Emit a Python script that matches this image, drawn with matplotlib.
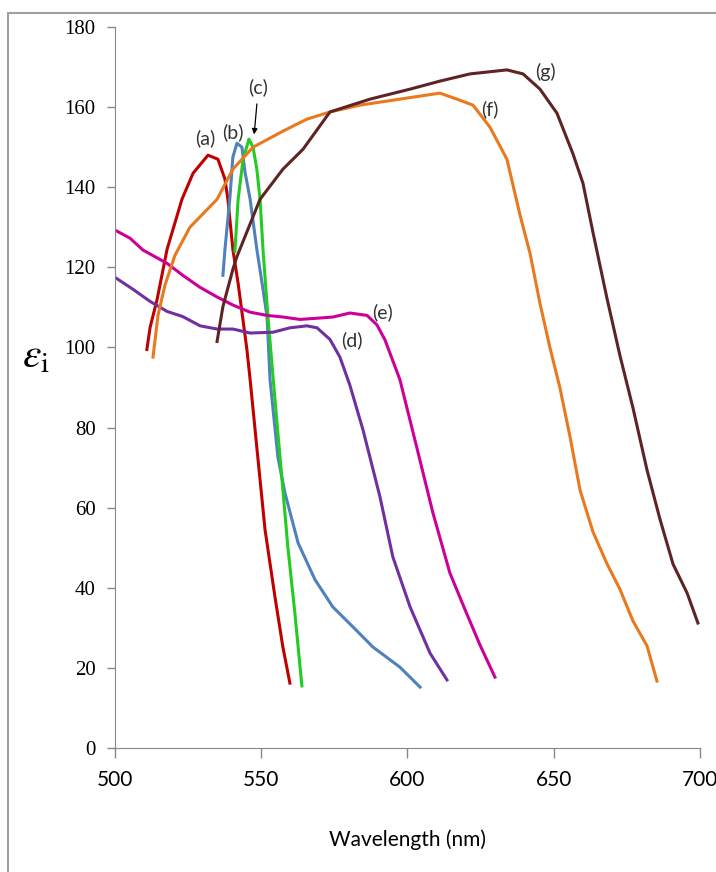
import matplotlib
matplotlib.use("Agg")
import matplotlib.pyplot as plt
from matplotlib.patches import Rectangle

plt.rcParams['mathtext.fontset'] = 'stix'

# (a) red
wl_a = [510.9, 512.0, 514.4, 517.8, 522.9, 526.7, 531.8, 535.2, 537.6, 538.6, 540.3, 542.1,
        545.1, 546.2, 548.5, 551.3, 554.7, 557.4, 559.8]
eps_a = [99.5, 105, 112, 124.5, 137, 143.5, 148, 147, 142, 137, 124.5, 116,
         99.5, 92, 75, 54.5, 37.7, 25.2, 16.2]

# (b) blue
wl_b = [536.9, 537.6, 539.3, 540.3, 541.7, 543.4, 544.4, 546.2, 548.5, 550.3, 552.0, 553.0,
        555.7, 558.1, 562.6, 568.4, 574.5, 581.4, 588.2, 597.4, 604.3]
eps_b = [118, 124.5, 137.5, 147.5, 151, 150, 144, 137, 124.5, 116, 107.6, 92,
         72.6, 63.7, 51.2, 42, 35.2, 30.2, 25.2, 20.2, 15.2]

# (c) green
wl_c = [541.0, 542.1, 543.8, 545.8, 547.2, 548.5, 549.6, 550.6, 552.3, 554.4, 557.1, 559.1,
        561.5, 563.9]
eps_c = [124, 137, 147, 152, 150, 144.5, 137, 124.5, 107.6, 89.5, 67, 50.2, 33.7, 15.5]

# (d) purple
wl_d = [500, 506.2, 512.0, 517.8, 523.2, 529.1, 534.9, 540.3, 546.2, 554.0, 559.8, 565.6,
        569.1, 573.5, 576.9, 580.3, 584.8, 590.6, 595.0, 600.9, 607.7, 613.5]
eps_d = [117.5, 114.5, 111.5, 109, 107.7, 105.4, 104.6, 104.6, 103.6, 103.8, 104.9, 105.4,
         104.9, 102, 97.6, 90.6, 79.4, 62.7, 47.7, 35.2, 23.7, 17]

# (e) magenta
wl_e = [500, 505.1, 509.6, 517.8, 523.2, 529.1, 534.9, 540.3, 546.2, 552.0, 557.4, 563.2,
        569.1, 574.5, 580.3, 586.2, 589.6, 592.3, 597.4, 603.2, 608.7, 614.5, 619.7, 624.8, 629.9]
eps_e = [129.3, 127.3, 124.3, 121, 118, 115, 112.6, 110.6, 108.8, 108, 107.6, 107,
         107.3, 107.6, 108.6, 108, 105.6, 101.9, 92, 75, 58.7, 43.7, 34.5, 25.7, 17.7]

# (f) orange
wl_f = [513.0, 514.7, 517.1, 520.5, 525.6, 534.9, 540.3, 547.2, 557.4, 565.6, 573.5, 583.8,
        597.4, 611.1, 616.9, 622.4, 628.2, 634.0, 638.5, 641.9, 645.3, 648.7, 652.1, 655.6,
        659.0, 663.4, 668.2, 672.6, 677.1, 681.9, 685.3]
eps_f = [97.6, 108, 115.6, 123, 130, 137, 144.5, 150, 154, 157, 158.8, 160.5,
         162, 163.5, 162, 160.5, 155, 147, 133, 123.5, 111, 100, 90, 77.6,
         64.4, 54, 46, 39.7, 31.7, 25.5, 16.7]

# (g) brown
wl_g = [534.9, 536.9, 540.3, 541.7, 549.6, 557.4, 564.3, 573.5, 587.2, 600.9, 611.1, 621.4,
        634.0, 639.5, 645.3, 651.1, 656.6, 660.0, 663.4, 668.2, 672.6, 677.1, 681.9, 686.3,
        690.8, 695.6, 699.3]
eps_g = [101.5, 110.2, 119.5, 122.7, 137, 144.5, 149.5, 158.8, 162, 164.5, 166.5, 168.3,
         169.3, 168.3, 164.5, 158.5, 148.3, 141, 128.8, 112.3, 98.1, 84.9, 69.4, 57.2,
         45.9, 38.7, 31.2]

curves = [
    (wl_a, eps_a, '#C00000'),
    (wl_b, eps_b, '#4F81BD'),
    (wl_c, eps_c, '#22CC22'),
    (wl_d, eps_d, '#7030A0'),
    (wl_e, eps_e, '#CC0099'),
    (wl_f, eps_f, '#E8791E'),
    (wl_g, eps_g, '#5E2424'),
]

labels = ['(a)', '(b)', '(c)', '(d)', '(e)', '(f)', '(g)']
label_x = [530.8, 540.3, 548.9, 581.0, 591.6, 628.2, 647.0]
label_y = [152.3, 153.8, 165.0, 101.8, 108.8, 159.5, 168.8]

fig = plt.figure(figsize=(7.16, 8.72), dpi=100)
ax = fig.add_axes([0.1606, 0.1422, 0.817, 0.8268])

for wl, eps, col in curves:
    ax.plot(wl, eps, color=col, lw=2.2, solid_joinstyle='round')

for lab, lx, ly in zip(labels, label_x, label_y):
    ax.text(lx, ly, lab, fontsize=14, family='Lato', color='#333333', ha='center', va='center')

# arrow for (c)
ax.annotate('', xy=(547.5, 152.5), xytext=(548.6, 161.5),
            arrowprops=dict(arrowstyle='-|>', color='black', lw=0.9, mutation_scale=8))

ax.set_xlim(500, 700)
ax.set_ylim(0, 180)
ax.set_xticks(range(500, 701, 50))
ax.set_yticks(range(0, 181, 20))

for lab in ax.get_yticklabels():
    lab.set_family('Liberation Serif')
    lab.set_fontsize(15)
for lab in ax.get_xticklabels():
    lab.set_family('Lato')
    lab.set_fontsize(15)

ax.tick_params(axis='y', direction='out', length=6, width=1, color='#888888', pad=8)
ax.tick_params(axis='x', direction='out', length=7, width=1, color='#888888', pad=9)
ax.spines['top'].set_visible(False)
ax.spines['right'].set_visible(False)
ax.spines['left'].set_color('#888888')
ax.spines['bottom'].set_color('#888888')

ax.set_xlabel('Wavelength (nm)', family='Lato', fontsize=15, labelpad=28)
fig.text(0.05, 0.593, r'$\varepsilon_\mathrm{i}$', fontsize=30, ha='center', va='center')

# outer frame
fig.patches.append(Rectangle((8 / 716, -0.05), 1.2, 1 - 13 / 872 + 0.05, transform=fig.transFigure,
                             fill=False, edgecolor='#A0A0A0', lw=1.5))

fig.savefig('out.png', dpi=100)
